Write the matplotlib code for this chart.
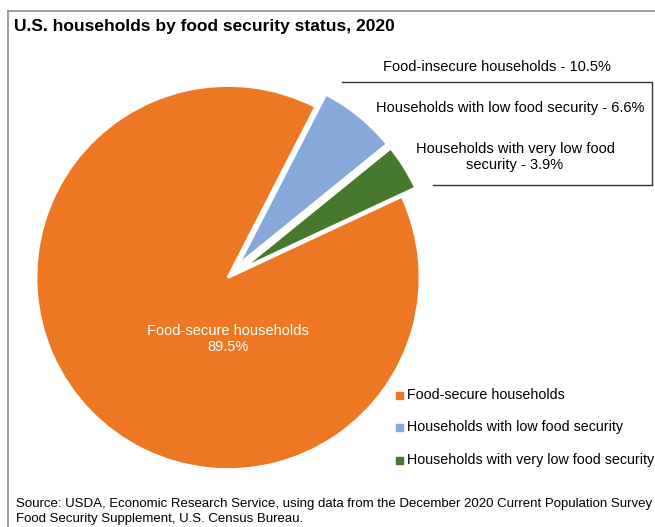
import matplotlib.pyplot as plt
from matplotlib.patches import Rectangle

plt.rcParams['font.family'] = ['Liberation Sans', 'DejaVu Sans']

labels = ["Food-secure households",
          "Households with low food security",
          "Households with very low food security"]
shares = [89.5, 6.6, 3.9]
colors = ["#ED7722", "#87A8DB", "#46792E"]
insecure_total = 10.5

W, H = 655, 527
fig = plt.figure(figsize=(W / 100, H / 100), dpi=100)
ax = fig.add_axes([0, 0, 1, 1])
ax.axis("off")

def py(y):
    # pixel row from top -> data y
    return H - y

# frame lines (top and left)
ax.plot([8, W], [py(11), py(11)], color="#8c8c8c", lw=1.2)
ax.plot([8, 8], [py(11), 0], color="#8c8c8c", lw=1.2)

ax.text(14, py(26), "U.S. households by food security status, 2020",
        fontsize=12.5, fontweight="bold", va="center", ha="left")

# explode is in data units (pixels here)
wedges, _ = ax.pie(shares, colors=colors, startangle=25.0, counterclock=False,
                   explode=[0, 16, 16], radius=192, center=(228, py(277.5)),
                   wedgeprops=dict(edgecolor="white", linewidth=2.0))
ax.set_aspect("equal")
ax.set_xlim(0, W)
ax.set_ylim(0, H)

ax.text(228, py(339), "Food-secure households\n%.1f%%" % shares[0],
        color="white", fontsize=10.5, ha="center", va="center", linespacing=1.2)

# callout box for the insecure categories
ax.plot([342, 652, 652, 433], [py(82), py(82), py(185), py(185)],
        color="#333333", lw=1.0)
ax.text(497, py(67), "Food-insecure households - %.1f%%" % insecure_total,
        fontsize=10.5, ha="center", va="center")
ax.text(510, py(108), "%s - %.1f%%" % (labels[1], shares[1]),
        fontsize=10.5, ha="center", va="center")
ax.text(515, py(157), "Households with very low food\nsecurity - %.1f%%" % shares[2],
        fontsize=10.5, ha="center", va="center", linespacing=1.15)

# legend
for i, (lab, c) in enumerate(zip(labels, colors)):
    yy = py(395 + i * 32.5)
    ax.add_patch(Rectangle((396, yy - 3.5), 7, 7, color=c))
    ax.text(407, yy, lab, fontsize=10.3, ha="left", va="center")

ax.text(16, py(504), "Source: USDA, Economic Research Service, using data from the December 2020 Current Population Survey",
        fontsize=9.5, ha="left", va="center")
ax.text(16, py(519), "Food Security Supplement, U.S. Census Bureau.",
        fontsize=9.5, ha="left", va="center")

fig.savefig("out.png", dpi=100)
